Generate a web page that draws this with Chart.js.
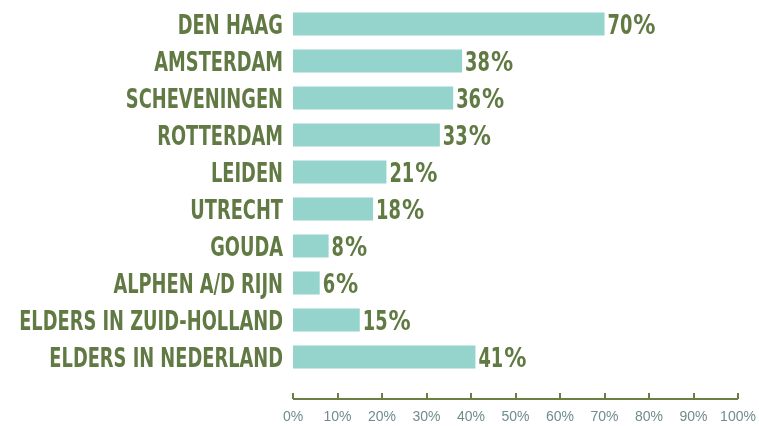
<!DOCTYPE html>
<html><head><meta charset="utf-8">
<script src="https://cdn.jsdelivr.net/npm/chart.js@4"></script>
<style>html,body{margin:0;padding:0;background:#fff}#wrap{width:759px;height:426px}</style>
</head><body><div id="wrap"><canvas id="c"></canvas></div>
<script>
const categories = ["DEN HAAG","AMSTERDAM","SCHEVENINGEN","ROTTERDAM","LEIDEN","UTRECHT","GOUDA","ALPHEN A/D RIJN","ELDERS IN ZUID-HOLLAND","ELDERS IN NEDERLAND"];
const values = [70,38,36,33,21,18,8,6,15,41];
const tickValues = [0,10,20,30,40,50,60,70,80,90,100];

const OLIVE = '#617a43';
const LABEL_FONT = "bold 27px 'DejaVu Sans','Liberation Sans',sans-serif";
const SQUEEZE = 0.66;
const PCT_SQUEEZE = 0.82;

function drawSqueezed(ctx, text, x, y, align, sq){
  ctx.save();
  ctx.translate(x, y);
  ctx.scale(sq, 1);
  ctx.textAlign = align;
  ctx.textBaseline = 'alphabetic';
  ctx.fillText(text, 0, 0);
  ctx.restore();
  return ctx.measureText(text).width * sq;
}

const textLabels = {
  id:'textLabels',
  afterDatasetsDraw(chart){
    const ctx = chart.ctx;
    const meta = chart.getDatasetMeta(0);
    const ys = chart.scales.y;
    ctx.save();
    ctx.font = LABEL_FONT;
    ctx.fillStyle = OLIVE;
    categories.forEach((c,i)=>{
      drawSqueezed(ctx, c, chart.chartArea.left - 10, ys.getPixelForValue(i) + 10, 'right', SQUEEZE);
    });
    meta.data.forEach((bar,i)=>{
      const w = drawSqueezed(ctx, String(values[i]), bar.x + 3, bar.y + 10, 'left', SQUEEZE);
      drawSqueezed(ctx, '%', bar.x + 3 + w + 1, bar.y + 10, 'left', PCT_SQUEEZE);
    });
    ctx.restore();
  }
};
const axisLine = {
  id:'axisLine',
  afterDraw(chart){
    const ctx = chart.ctx;
    const x = chart.scales.x;
    const y = chart.chartArea.bottom + 23.5;
    ctx.save();
    ctx.strokeStyle = '#6b7f45';
    ctx.lineWidth = 2;
    ctx.beginPath();
    ctx.moveTo(x.getPixelForValue(0), y);
    ctx.lineTo(x.getPixelForValue(100), y);
    tickValues.forEach(v=>{
      const px = Math.round(x.getPixelForValue(v));
      ctx.moveTo(px, y);
      ctx.lineTo(px, y - 6);
    });
    ctx.stroke();
    ctx.restore();
  }
};

new Chart(document.getElementById('c'), {
  type:'bar',
  data:{labels:categories, datasets:[{data:values, backgroundColor:'#95d4cd', categoryPercentage:1, barPercentage:0.62}]},
  options:{
    indexAxis:'y', responsive:true, maintainAspectRatio:false, animation:false,
    layout:{padding:{top:5.5, right:21, left:0, bottom:0}},
    plugins:{legend:{display:false}, tooltip:{enabled:false}},
    scales:{
      x:{min:0,max:100,
        afterBuildTicks(s){ s.ticks = tickValues.map(v=>({value:v})); },
        afterFit(s){ s.height = 50.5; s.paddingLeft = 0; s.paddingRight = 0; },
        grid:{display:false, drawTicks:false}, border:{display:false},
        ticks:{padding:33, color:'#6f8c8e', font:{family:"'Liberation Sans',Arial,sans-serif", size:14}, maxRotation:0, autoSkip:false,
          callback:(v)=>v+'%'}},
      y:{
        afterFit(s){ s.width = 293; s.paddingTop = 0; s.paddingBottom = 0; },
        grid:{display:false, drawTicks:false}, border:{display:false},
        ticks:{display:false}}
    }
  },
  plugins:[textLabels, axisLine]
});
</script></body></html>
